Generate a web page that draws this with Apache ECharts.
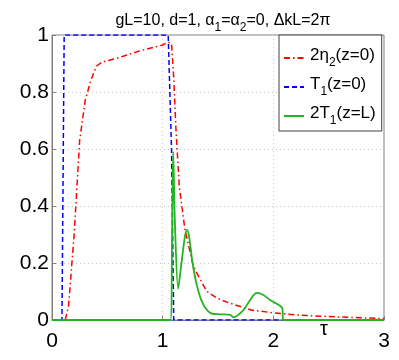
<!DOCTYPE html>
<html>
<head>
<meta charset="utf-8">
<script src="https://cdn.jsdelivr.net/npm/echarts@6/dist/echarts.min.js"></script>
<style>
  html, body { margin: 0; padding: 0; background: #fff; }
  #chart { width: 399px; height: 360px; }
</style>
</head>
<body>
<div id="chart"></div>
<script>
// tick values
const xTicks = [0, 1, 2, 3];
const yTicks = [0, 0.2, 0.4, 0.6, 0.8, 1];

// 2η2(z=0), red dash-dot
const tauEta = [0, 0.12, 0.15, 0.2, 0.25, 0.3, 0.35, 0.4, 0.45, 0.6, 0.8, 1.0, 1.05, 1.08, 1.1, 1.12, 1.15, 1.2, 1.27, 1.3, 1.4, 1.5, 1.6, 1.8, 2.0, 2.2, 2.5, 3.0];
const eta2 = [0, 0, 0.05, 0.3, 0.63, 0.77, 0.84, 0.89, 0.905, 0.92, 0.945, 0.965, 0.975, 0.97, 0.85, 0.67, 0.47, 0.32, 0.2, 0.17, 0.1, 0.075, 0.06, 0.035, 0.025, 0.018, 0.012, 0.005];

// T1(z=0), blue dashed
const tauT0 = [0, 0.09, 0.11, 1.05, 1.08, 1.1, 3.0];
const t1z0 = [0, 0, 1, 1, 0.6, 0, 0];

// 2T1(z=L), green solid
const tauTL = [0, 1.07, 1.085, 1.095, 1.11, 1.14, 1.17, 1.2, 1.22, 1.24, 1.27, 1.31, 1.36, 1.43, 1.52, 1.61, 1.64, 1.73, 1.79, 1.85, 1.91, 1.97, 2.08, 2.09, 3.0];
const t1zL = [0, 0, 0.3, 0.59, 0.35, 0.11, 0.2, 0.29, 0.316, 0.29, 0.2, 0.12, 0.06, 0.025, 0.02, 0.018, 0.01, 0.035, 0.07, 0.095, 0.088, 0.07, 0.042, 0, 0];

const pairs = (xs, ys) => xs.map((x, i) => [x, ys[i]]);

const FONT = "Liberation Sans";

const chart = echarts.init(document.getElementById("chart"));
chart.setOption({
  animation: false,
  backgroundColor: "#fff",
  title: {
    text: "gL=10, d=1, α{s|1}=α{s|2}=0, ΔkL=2π",
    left: 218,
    textAlign: "center",
    top: 3,
    textStyle: {
      fontFamily: FONT, fontSize: 16, fontWeight: "normal", color: "#000",
      rich: { s: { fontFamily: FONT, fontSize: 12, verticalAlign: "bottom", padding: [14, 0, 0, 0], color: "#000" } }
    }
  },
  grid: {
    left: 52, right: 15, top: 35, bottom: 40,
    show: true, borderColor: "#808080", borderWidth: 1
  },
  legend: {
    orient: "vertical",
    left: 279, top: 35,
    backgroundColor: "#fff",
    borderColor: "#404040", borderWidth: 1,
    borderRadius: 0,
    padding: [12, 6, 4, 4],
    itemWidth: 20, itemHeight: 10, itemGap: 7,
    itemStyle: { opacity: 0 },
    textStyle: {
      fontFamily: FONT, fontSize: 17, color: "#000", padding: [0, 0, 5, 1],
      rich: {
        s: { fontFamily: FONT, fontSize: 12, verticalAlign: "bottom", padding: [15, 0, 0, 0], color: "#000" }
      }
    },
    formatter: function (name) {
      if (name === "eta") return "2η{s|2}(z=0)";
      if (name === "t0") return "T{s|1}(z=0)";
      return "2T{s|1}(z=L)";
    },
    data: ["eta", "t0", "tl"]
  },
  xAxis: {
    type: "value", min: 0, max: 3, interval: 1,
    axisLine: { show: true, onZero: false, lineStyle: { color: "#808080" } },
    axisTick: { show: true, inside: true, length: 4, lineStyle: { color: "#808080" } },
    axisLabel: { fontFamily: FONT, fontSize: 21, color: "#000", margin: 11 },
    splitLine: { show: true, lineStyle: { color: "#c8c8c8", type: [1, 3] } }
  },
  yAxis: {
    type: "value", min: 0, max: 1, interval: 0.2,
    axisLine: { show: true, onZero: false, lineStyle: { color: "#808080" } },
    axisTick: { show: true, inside: true, length: 4, lineStyle: { color: "#808080" } },
    axisLabel: {
      fontFamily: FONT, fontSize: 21, color: "#000", margin: 3,
      formatter: v => (v === 0 || v === 1) ? String(v) : v.toFixed(1)
    },
    splitLine: { show: true, lineStyle: { color: "#c8c8c8", type: [1, 3] } }
  },
  graphic: [{
    type: "text",
    left: 320, top: 319,
    style: { text: "τ", fontFamily: FONT, fontSize: 20, fill: "#000" }
  }],
  series: [
    {
      name: "eta", type: "line", showSymbol: false, symbol: "none",
      data: pairs(tauEta, eta2),
      lineStyle: { color: "#ff0000", width: 1.5, type: [6, 3, 1.5, 3] },
      itemStyle: { color: "#ff0000" }, z: 3
    },
    {
      name: "t0", type: "line", showSymbol: false, symbol: "none",
      data: pairs(tauT0, t1z0),
      lineStyle: { color: "#0000ff", width: 1.5, type: [5, 3] },
      itemStyle: { color: "#0000ff" }, z: 2
    },
    {
      name: "tl", type: "line", showSymbol: false, symbol: "none", smooth: 0.3,
      data: pairs(tauTL, t1zL),
      lineStyle: { color: "#22b422", width: 1.8 },
      itemStyle: { color: "#22b422" }, z: 4
    }
  ]
});
</script>
</body>
</html>
